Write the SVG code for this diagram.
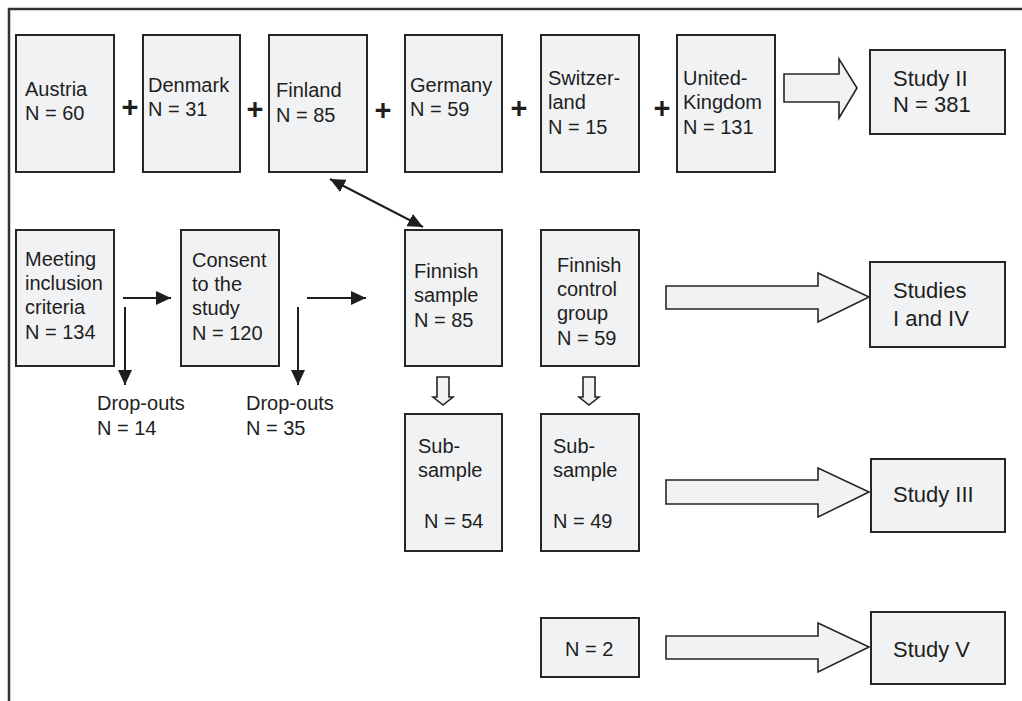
<svg xmlns="http://www.w3.org/2000/svg" width="1022" height="701" viewBox="0 0 1022 701">
<style>
.box{fill:#f1f2f3;stroke:#262626;stroke-width:2}
.big{fill:#f1f2f3;stroke:#262626;stroke-width:1.6;stroke-linejoin:miter}
.t{font-family:"Liberation Sans",Arial,sans-serif;font-size:20px;fill:#1e1e1e}
.s{font-family:"Liberation Sans",Arial,sans-serif;font-size:22px;fill:#1e1e1e}
.plus{font-family:"Liberation Sans",Arial,sans-serif;font-size:29px;font-weight:bold;fill:#1e1e1e;text-anchor:middle}
.ln{stroke:#1e1e1e;stroke-width:2;fill:none}
.frame{stroke:#333;stroke-width:2.5;fill:none}
</style>
<defs>
<marker id="ah" markerUnits="userSpaceOnUse" markerWidth="16" markerHeight="14" refX="15" refY="7" orient="auto-start-reverse">
<path d="M0,0 L15,7 L0,14 z" fill="#1e1e1e"/>
</marker>
</defs>
<rect width="1022" height="701" fill="#ffffff"/>
<path class="frame" d="M9,701 V9 H1022"/>

<g id="austria"><rect class="box" x="16" y="35" width="98" height="137"/><text class="t" x="25" y="96">Austria</text><text class="t" x="25" y="120">N = 60</text></g>
<g id="denmark"><rect class="box" x="143" y="35" width="97" height="137"/><text class="t" x="148" y="92">Denmark</text><text class="t" x="148" y="116">N = 31</text></g>
<g id="finland"><rect class="box" x="269" y="35" width="98" height="137"/><text class="t" x="276" y="97">Finland</text><text class="t" x="276" y="122">N = 85</text></g>
<g id="germany"><rect class="box" x="405" y="35" width="97" height="137"/><text class="t" x="410" y="92">Germany</text><text class="t" x="410" y="116">N = 59</text></g>
<g id="switzerland"><rect class="box" x="541" y="35" width="98" height="137"/><text class="t" x="548" y="85">Switzer-</text><text class="t" x="548" y="109">land</text><text class="t" x="548" y="134">N = 15</text></g>
<g id="uk"><rect class="box" x="677" y="35" width="98" height="137"/><text class="t" x="683" y="85">United-</text><text class="t" x="683" y="109">Kingdom</text><text class="t" x="683" y="134">N = 131</text></g>
<g id="study2"><rect class="box" x="870" y="50" width="135" height="84"/><text class="s" x="893" y="86">Study II</text><text class="s" x="893" y="112">N = 381</text></g>

<g id="plus-signs">
<text class="plus" x="130" y="117">+</text>
<text class="plus" x="255" y="119">+</text>
<text class="plus" x="383" y="120">+</text>
<text class="plus" x="519" y="118">+</text>
<text class="plus" x="662" y="118">+</text>
</g>

<g id="meeting"><rect class="box" x="16" y="230" width="98" height="136"/><text class="t" x="25" y="266">Meeting</text><text class="t" x="25" y="290">inclusion</text><text class="t" x="25" y="314">criteria</text><text class="t" x="25" y="339">N = 134</text></g>
<g id="consent"><rect class="box" x="181" y="230" width="98" height="136"/><text class="t" x="192" y="267">Consent</text><text class="t" x="192" y="291">to the</text><text class="t" x="192" y="315">study</text><text class="t" x="192" y="340">N = 120</text></g>
<g id="dropouts1"><text class="t" x="97" y="410">Drop-outs</text><text class="t" x="97" y="435">N = 14</text></g>
<g id="dropouts2"><text class="t" x="246" y="410">Drop-outs</text><text class="t" x="246" y="435">N = 35</text></g>
<g id="finnish-sample"><rect class="box" x="405" y="230" width="97" height="136"/><text class="t" x="414" y="278">Finnish</text><text class="t" x="414" y="302">sample</text><text class="t" x="414" y="327">N = 85</text></g>
<g id="finnish-control"><rect class="box" x="541" y="230" width="98" height="136"/><text class="t" x="557" y="272">Finnish</text><text class="t" x="557" y="296">control</text><text class="t" x="557" y="320">group</text><text class="t" x="557" y="345">N = 59</text></g>
<g id="studies1-4"><rect class="box" x="870" y="262" width="135" height="85"/><text class="s" x="893" y="298">Studies</text><text class="s" x="893" y="326">I and IV</text></g>

<g id="subsample1"><rect class="box" x="405" y="414" width="97" height="137"/><text class="t" x="418" y="453">Sub-</text><text class="t" x="418" y="477">sample</text><text class="t" x="424" y="528">N = 54</text></g>
<g id="subsample2"><rect class="box" x="541" y="414" width="98" height="137"/><text class="t" x="553" y="453">Sub-</text><text class="t" x="553" y="477">sample</text><text class="t" x="553" y="528">N = 49</text></g>
<g id="study3"><rect class="box" x="871" y="459" width="134" height="73"/><text class="s" x="893" y="502">Study III</text></g>
<g id="n2"><rect class="box" x="541" y="618" width="98" height="59"/><text class="t" x="565" y="656">N = 2</text></g>
<g id="study5"><rect class="box" x="871" y="612" width="134" height="72"/><text class="s" x="893" y="657">Study V</text></g>

<g id="connectors">
<line class="ln" x1="330" y1="179" x2="423" y2="227" marker-start="url(#ah)" marker-end="url(#ah)"/>
<line class="ln" x1="123" y1="298" x2="171" y2="298" marker-end="url(#ah)"/>
<line class="ln" x1="307" y1="298" x2="366" y2="298" marker-end="url(#ah)"/>
<line class="ln" x1="125" y1="307" x2="125" y2="385" marker-end="url(#ah)"/>
<line class="ln" x1="298" y1="307" x2="298" y2="385" marker-end="url(#ah)"/>
<polygon class="big" points="437,377 449,377 449,397 453,397 443,405 433,397 437,397"/>
<polygon class="big" points="583,377 595,377 595,397 599,397 589,405 579,397 583,397"/>
<polygon class="big" points="784,74 839,74 839,59 857,88 839,118 839,102 784,102"/>
<polygon class="big" points="666,286 818,286 818,273 869,297 818,322 818,309 666,309"/>
<polygon class="big" points="666,480 818,480 818,468 869,492 818,517 818,504 666,504"/>
<polygon class="big" points="666,636 818,636 818,623 869,647 818,672 818,659 666,659"/>
</g>
</svg>
